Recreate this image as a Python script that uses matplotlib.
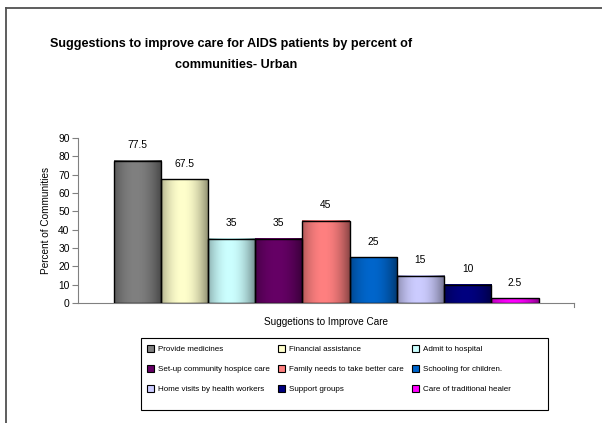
import numpy as np
import matplotlib
matplotlib.use("Agg")
import matplotlib.pyplot as plt
from matplotlib.patches import Patch, Rectangle
from matplotlib.lines import Line2D
from matplotlib.colors import to_rgb

plt.rcParams['font.family'] = ['Liberation Sans', 'DejaVu Sans']

categories = [
    "Provide medicines",
    "Financial assistance",
    "Admit to hospital",
    "Set-up community hospice care",
    "Family needs to take better care",
    "Schooling for children.",
    "Home visits by health workers",
    "Support groups",
    "Care of traditional healer",
]
values = [77.5, 67.5, 35, 35, 45, 25, 15, 10, 2.5]
value_labels = ["77.5", "67.5", "35", "35", "45", "25", "15", "10", "2.5"]
colors = ["#808080", "#FFFFCC", "#CCFFFF", "#660066", "#FF8080",
          "#0066CC", "#CCCCFF", "#000080", "#FF00FF"]
yticks = [0, 10, 20, 30, 40, 50, 60, 70, 80, 90]

W, H = 602, 423
fig = plt.figure(figsize=(W / 100, H / 100), dpi=100)
fig.patch.set_facecolor("white")


def fx(px):
    return px / W


def fy(py):
    return 1 - py / H


# outer frame (left and top edges)
fig.add_artist(Line2D([fx(5.5), fx(5.5)], [0, fy(8)],
                      transform=fig.transFigure, color="#505050", lw=1.3))
fig.add_artist(Line2D([fx(5.5), 1.0], [fy(8), fy(8)],
                      transform=fig.transFigure, color="#505050", lw=1.3))

ax = fig.add_axes([fx(78), fy(303), fx(574 - 78), (303 - 138) / H])

n = len(values)
width = 1.0
x = np.arange(n) - (n - 1) / 2
bars = ax.bar(x, values, width=width, facecolor="none", edgecolor="black",
              linewidth=1.0, zorder=3)

# horizontal shading inside each bar
t = np.linspace(0, 1, 200)
profile = np.clip(1 - ((t - 0.45) / 0.6) ** 2, 0, 1)
for rect, c in zip(bars, colors):
    base = np.array(to_rgb(c))
    dark = base * 0.45
    grad = dark[None, :] + (base - dark)[None, :] * profile[:, None]
    img = grad[None, :, :]
    x0 = rect.get_x()
    ax.imshow(img, extent=(x0, x0 + rect.get_width(), 0, rect.get_height()),
              aspect="auto", interpolation="bilinear", zorder=2)

for rect, lab in zip(bars, value_labels):
    ax.annotate(lab, (rect.get_x() + rect.get_width() / 2, rect.get_height()),
                xytext=(0, 7.5), textcoords="offset points",
                ha="center", va="bottom", fontsize=7.4)

total = n * width * (496 / 425)
ax.set_xlim(-total / 2, total / 2)
ax.set_ylim(0, 90)
ax.set_yticks(yticks)
ax.tick_params(axis="y", labelsize=7.4, length=4, width=0.8, color="#808080", pad=2)
ax.set_xticks([])
for side in ("top", "right"):
    ax.spines[side].set_visible(False)
ax.spines["left"].set_color("#808080")
ax.spines["bottom"].set_color("#808080")
ax.set_facecolor("none")

ax.set_ylabel("Percent of Communities", fontsize=7.2, labelpad=5)
ax.set_xlabel("Suggetions to Improve Care", fontsize=7.2, labelpad=10)
ax.plot([1.0, 1.0], [0, -0.025], transform=ax.transAxes, color="#808080",
        lw=0.8, clip_on=False)

fig.text(fx(231), fy(47), "Suggestions to improve care for AIDS patients by percent of",
         ha="center", va="baseline", fontsize=9.1, fontweight="bold")
fig.text(fx(236), fy(68), "communities- Urban",
         ha="center", va="baseline", fontsize=9.1, fontweight="bold")

# legend box
fig.add_artist(Rectangle((fx(141), fy(410)), fx(548 - 141), (410 - 338) / H,
                         transform=fig.transFigure, facecolor="white",
                         edgecolor="black", lw=0.8, zorder=0))
handles = [Patch(facecolor=c, edgecolor="black", linewidth=0.8) for c in colors]
order = [0, 3, 6, 1, 4, 7, 2, 5, 8]
leg = fig.legend([handles[i] for i in order], [categories[i] for i in order],
                 ncol=3, loc="upper left",
                 bbox_to_anchor=(fx(144.6), fy(342.5)),
                 fontsize=5.75, frameon=False,
                 handlelength=0.9, handleheight=0.9, handletextpad=0.45,
                 labelspacing=1.5, borderpad=0.3, borderaxespad=0.0,
                 columnspacing=1.05)

fig.savefig("out.png", dpi=100)
